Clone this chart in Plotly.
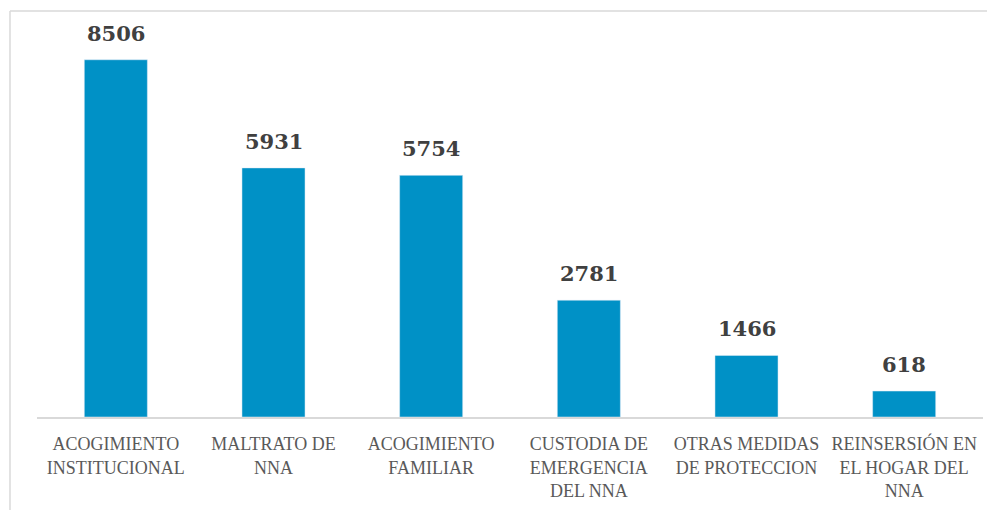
import plotly.graph_objects as go

categories = [
    "ACOGIMIENTO<br>INSTITUCIONAL",
    "MALTRATO DE<br>NNA",
    "ACOGIMIENTO<br>FAMILIAR",
    "CUSTODIA DE<br>EMERGENCIA<br>DEL NNA",
    "OTRAS MEDIDAS<br>DE PROTECCION",
    "REINSERSIÓN EN<br>EL HOGAR DEL<br>NNA",
]
values = [8506, 5931, 5754, 2781, 1466, 618]

# page body adds an 8px offset; positions below are in figure pixels
W, H = 995, 510
L, R, T, B = 29, 20.4, 31, 101
pw = W - L - R
ph = H - T - B

fig = go.Figure(go.Bar(
    x=categories, y=values, marker_color="#0091C6", width=0.4,
    hoverinfo="skip",
))

for c, v in zip(categories, values):
    fig.add_annotation(
        x=c, y=v, text=f"<b>{v}</b>", showarrow=False, yanchor="bottom",
        yshift=12, font=dict(family="DejaVu Serif", size=21, color="#404040"),
    )

def px_x(p):
    return (p - L) / pw

def px_y(p):
    return (H - B - p) / ph

line_style = dict(color="#d9d9d9", width=1.5)
fig.add_shape(type="line", xref="paper", yref="paper",
              x0=px_x(2), x1=px_x(1000), y0=px_y(3), y1=px_y(3), line=line_style)
fig.add_shape(type="line", xref="paper", yref="paper",
              x0=px_x(2), x1=px_x(2), y0=px_y(3), y1=px_y(520), line=line_style)

fig.update_layout(
    width=W, height=H,
    margin=dict(l=L, r=R, t=T, b=B),
    plot_bgcolor="white", paper_bgcolor="white",
    showlegend=False,
    bargap=0.6,
    xaxis=dict(
        showline=True, linecolor="#d9d9d9", linewidth=1.5,
        ticks="", showgrid=False, ticklabelstandoff=10,
        tickfont=dict(family="Liberation Serif", size=18, color="#595959"),
        tickangle=0,
    ),
    yaxis=dict(range=[0, 9000], visible=False, showgrid=False, zeroline=False),
)

fig.write_html("out.html")
